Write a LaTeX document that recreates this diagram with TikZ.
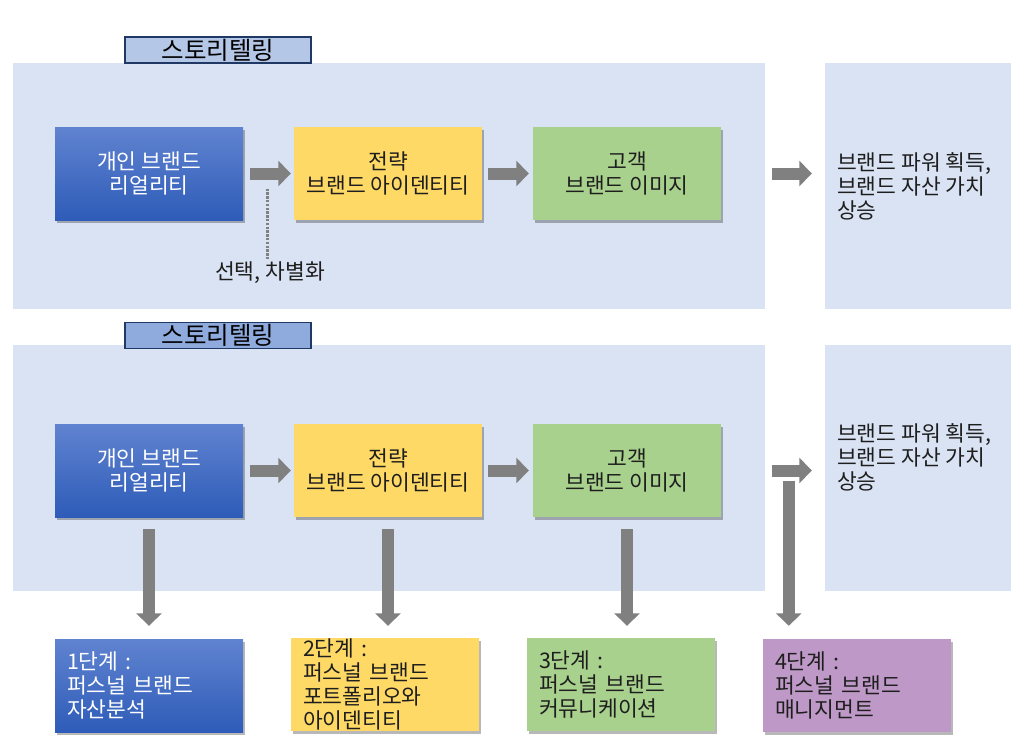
\documentclass[tikz,border=0pt]{standalone}
\usepackage{fontspec}
\setmainfont{Noto Sans CJK KR}
\usetikzlibrary{arrows.meta,shadows,calc}
\definecolor{panelc}{RGB}{218,227,243}
\definecolor{titleA}{RGB}{180,199,231}
\definecolor{titleB}{RGB}{143,170,220}
\definecolor{navy}{RGB}{31,56,100}
\definecolor{bluetop}{RGB}{96,131,208}
\definecolor{bluebot}{RGB}{46,92,184}
\definecolor{yellowc}{RGB}{255,217,102}
\definecolor{greenc}{RGB}{169,209,142}
\definecolor{purplec}{RGB}{190,152,198}
\definecolor{arrowgray}{RGB}{128,128,128}
\definecolor{txt}{RGB}{30,30,30}
\begin{document}
\begin{tikzpicture}[x=1pt,y=-1pt,
  panel/.style={fill=panelc, draw=none, inner sep=0pt},
  titlebox/.style={draw=navy, line width=1.6pt, minimum width=186pt, minimum height=26pt, inner sep=0pt, font=\fontsize{24.5}{26}\selectfont, text=black},
  box/.style={minimum width=188pt, minimum height=93pt, inner sep=0pt, align=center,
    font=\fontsize{21.5}{24}\selectfont, text=txt,
    drop shadow={shadow xshift=1.5pt, shadow yshift=-2.5pt, fill=black, opacity=0.28}},
  bluebox/.style={box, top color=bluetop, bottom color=bluebot, text=white},
  stagebox/.style={box, text width=164pt, inner xsep=12pt, align=left},
  blockarrow/.style={draw=arrowgray, line width=12pt, -{Triangle[length=12.5pt,width=25pt]}},
  dotline/.style={draw=arrowgray, line width=2.6pt, dash pattern=on 2.4pt off 1.4pt},
  plain/.style={font=\fontsize{21.5}{24}\selectfont, text=txt, inner sep=0pt}
]
\useasboundingbox[fill=white] (0,0) rectangle (1020,744);

% ---------- top section ----------
\node[panel, minimum width=752pt, minimum height=246pt] (p1) at (389,186) {};
\node[panel, minimum width=186pt, minimum height=246pt] (rp1) at (918,186) {};
\node[titlebox, fill=titleA] (t1) at (218,50) {스토리텔링};

\node[bluebox] (a1) at (149,173.5) {개인 브랜드\\리얼리티};
\node[box, fill=yellowc] (a2) at (388,173.5) {전략\\브랜드 아이덴티티};
\node[box, fill=greenc] (a3) at (627,173.5) {고객\\브랜드 이미지};

\node[plain, anchor=west, align=left] (r1) at (837,186) {브랜드 파워 획득,\\브랜드 자산 가치\\상승};

\draw[blockarrow] ($(a1.east)+(7,0)$) -- ($(a2.west)+(-3,0)$);
\draw[blockarrow] ($(a2.east)+(6,0)$) -- ($(a3.west)+(-4,0)$);
\draw[blockarrow] ($(a3.east)+(51,0)$) -- ($(a3.east -| rp1.west)+(-13,0)$);

\node[plain] (sel) at (270,273) {선택, 차별화};
\coordinate (d1) at ($(a1.east)+(24,15)$);
\draw[dotline] (d1) -- ($(d1 |- sel.north)+(0,-3)$);

% ---------- bottom section ----------
\node[panel, minimum width=752pt, minimum height=246pt] (p2) at (389,468) {};
\node[panel, minimum width=186pt, minimum height=246pt] (rp2) at (918,468) {};
\node[titlebox, fill=titleB] (t2) at (218,335.5) {스토리텔링};

\node[bluebox] (b1) at (149,470.5) {개인 브랜드\\리얼리티};
\node[box, fill=yellowc] (b2) at (388,470.5) {전략\\브랜드 아이덴티티};
\node[box, fill=greenc] (b3) at (627,470.5) {고객\\브랜드 이미지};

\node[plain, anchor=west, align=left] (r2) at (837,457) {브랜드 파워 획득,\\브랜드 자산 가치\\상승};

\draw[blockarrow] ($(b1.east)+(7,0)$) -- ($(b2.west)+(-3,0)$);
\draw[blockarrow] ($(b2.east)+(6,0)$) -- ($(b3.west)+(-4,0)$);
\draw[blockarrow] ($(b3.east)+(51,0)$) -- ($(b3.east -| rp2.west)+(-13,0)$);

% stage boxes
\node[stagebox, top color=bluetop, bottom color=bluebot, text=white] (s1) at (149,685.5) {1단계 :\\퍼스널 브랜드\\자산분석};
\node[stagebox, fill=yellowc] (s2) at (385,684.5) {2단계 :\\퍼스널 브랜드\\포트폴리오와\\아이덴티티};
\node[stagebox, fill=greenc] (s3) at (621,684.5) {3단계 :\\퍼스널 브랜드\\커뮤니케이션};
\node[stagebox, fill=purplec] (s4) at (857,685.5) {4단계 :\\퍼스널 브랜드\\매니지먼트};

\draw[blockarrow] ($(b1.south)+(0,12)$) -- ($(b1.south |- s1.north)+(0,-13)$);
\draw[blockarrow] ($(b2.south)+(0,12)$) -- ($(b2.south |- s2.north)+(0,-12)$);
\draw[blockarrow] ($(b3.south)+(0,12)$) -- ($(b3.south |- s3.north)+(0,-12)$);
\coordinate (c4) at ($(rp2.west |- b3.east)+(-36,10)$);
\draw[blockarrow] (c4) -- ($(c4 |- s4.north)+(0,-13)$);
\end{tikzpicture}
\end{document}
